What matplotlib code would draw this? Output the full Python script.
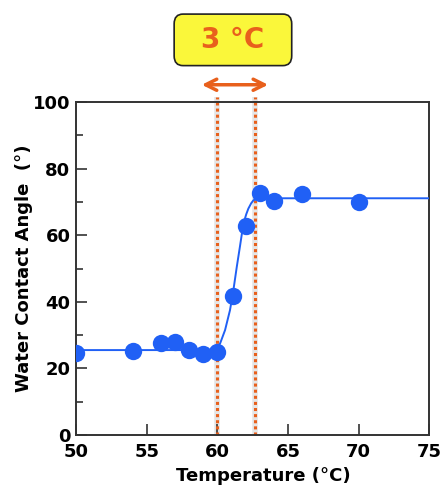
import matplotlib
matplotlib.use("Agg")
import matplotlib.pyplot as plt
from matplotlib.patches import FancyBboxPatch
from matplotlib.ticker import MultipleLocator

# measured contact angles
temp = [50, 54, 56, 57, 58, 59, 60, 61.1, 62, 63, 64, 66, 70]
angle = [24.5, 25.2, 27.7, 28.0, 25.5, 24.2, 24.8, 41.7, 62.8, 72.8, 70.4, 72.4, 69.9]

# fitted curve
fit_t = [50, 59.5, 60.0, 60.2, 60.55, 60.9, 61.14, 61.38, 61.6, 61.85, 62.05, 62.2, 62.4, 62.56, 62.8, 63.0, 64, 75]
fit_a = [25.5, 25.5, 26.0, 27.5, 31.5, 37.5, 43.5, 50.5, 56.5, 63.5, 66.3, 68.0, 69.6, 70.5, 71.0, 71.1, 71.1, 71.1]

t_low, t_high = 60.0, 62.7
gap_label = "3 °C"

blue = "#2060F5"
orange = "#E8601C"

plt.rcParams['font.family'] = ['DejaVu Sans']
plt.rcParams['font.weight'] = 'bold'

fig = plt.figure(figsize=(4.42, 4.86), dpi=100)
ax = fig.add_axes([0.172, 0.105, 0.799, 0.685])

ax.plot(fit_t, fit_a, color=blue, lw=1.4, zorder=3)
ax.plot(temp, angle, 'o', color=blue, ms=12.5, mec='none', zorder=4)

for t in (t_low, t_high):
    ax.plot([t, t], [0, 101.5], color='#cccccc', lw=4.0, alpha=0.5,
            solid_capstyle='butt', clip_on=False, zorder=1)
    ax.plot([t, t], [0, 101.5], color=orange, lw=2.2, ls=(0, (1, 1)),
            clip_on=False, zorder=2)

ax.annotate('', xy=(58.9, 105.2), xytext=(63.6, 105.2), annotation_clip=False,
            arrowprops=dict(arrowstyle='<->', color=orange, lw=2.5,
                            mutation_scale=20, shrinkA=0, shrinkB=0))

box = FancyBboxPatch((0.402, 0.873), 0.25, 0.09, transform=fig.transFigure,
                     boxstyle='round,pad=0.008,rounding_size=0.02',
                     facecolor='#FAF73A', edgecolor='#222222', lw=1.2)
fig.patches.append(box)
fig.text(0.527, 0.918, gap_label, color=orange, fontsize=20, fontweight='bold',
         ha='center', va='center')

ax.set_xlim(50, 75)
ax.set_ylim(0, 100)
ax.xaxis.set_major_locator(MultipleLocator(5))
ax.yaxis.set_major_locator(MultipleLocator(20))
ax.yaxis.set_minor_locator(MultipleLocator(10))
ax.tick_params(axis='both', which='both', direction='in', labelsize=13,
               top=False, right=False, width=1.2, color='#333333')
ax.tick_params(which='major', length=8)
ax.tick_params(which='minor', length=5)
ax.tick_params(axis='x', pad=6)
ax.tick_params(axis='y', pad=4)
for s in ax.spines.values():
    s.set_linewidth(1.4)
    s.set_color('#333333')

ax.set_xlabel('Temperature (°C)', fontsize=13, fontweight='bold')
ax.set_ylabel('Water Contact Angle  (°)', fontsize=13, fontweight='bold')
ax.xaxis.set_label_coords(0.53, -0.095)
ax.yaxis.set_label_coords(-0.122, 0.5)

fig.savefig('out.png', dpi=100)
